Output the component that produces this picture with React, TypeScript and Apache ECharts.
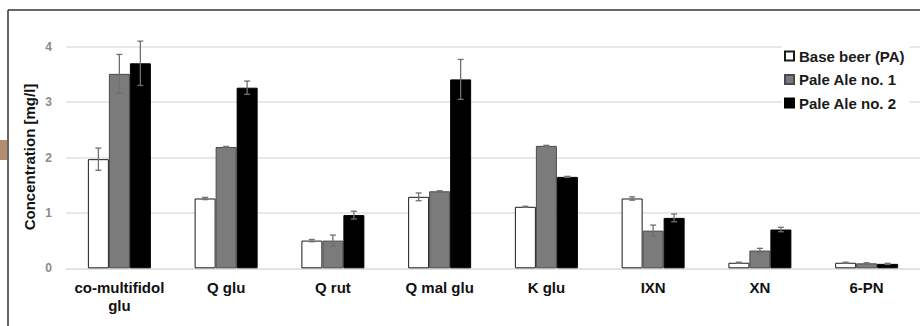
import React, { useEffect, useRef } from "react";
import * as echarts from "echarts";

const categories = ["co-multifidol\nglu", "Q glu", "Q rut", "Q mal glu", "K glu", "IXN", "XN", "6-PN"];
const seriesNames = ["Base beer (PA)", "Pale Ale no. 1", "Pale Ale no. 2"];
const baseBeer = [1.97, 1.26, 0.5, 1.29, 1.11, 1.26, 0.1, 0.1];
const baseBeerErr = [0.2, 0.02, 0.02, 0.07, 0.01, 0.03, 0.01, 0.01];
const paleAle1 = [3.51, 2.19, 0.5, 1.39, 2.21, 0.68, 0.32, 0.09];
const paleAle1Err = [0.35, 0.01, 0.1, 0.01, 0.01, 0.1, 0.04, 0.01];
const paleAle2 = [3.7, 3.26, 0.96, 3.41, 1.65, 0.91, 0.7, 0.08];
const paleAle2Err = [0.4, 0.12, 0.07, 0.36, 0.01, 0.07, 0.04, 0.01];
const yTicks = [0, 1, 2, 3, 4];

const BAR_W = 21;
const FONT = "'Liberation Sans', Arial, Helvetica, sans-serif";

export default function App() {
  const ref = useRef<HTMLDivElement>(null);
  useEffect(() => {
    if (!ref.current) return;
    const chart = echarts.init(ref.current, null, { renderer: "svg" });
    const values = [baseBeer, paleAle1, paleAle2];
    const errs = [baseBeerErr, paleAle1Err, paleAle2Err];
    const styles = [
      { color: "#ffffff", borderColor: "#1a1a1a", borderWidth: 1 },
      { color: "#7b7b7b", borderColor: "#4a4a4a", borderWidth: 1 },
      { color: "#000000", borderColor: "#000000", borderWidth: 1 },
    ];
    const barSeries = values.map((v, i) => ({
      name: seriesNames[i],
      type: "bar",
      data: v,
      barWidth: BAR_W,
      barGap: "0%",
      itemStyle: styles[i],
      z: 2,
    }));
    const errSeries = values.map((v, i) => ({
      type: "custom",
      name: seriesNames[i] + " err",
      clip: false,
      z: 5,
      silent: true,
      data: v.map((val, k) => [k, val, errs[i][k]]),
      encode: { x: 0, y: 1 },
      renderItem: (params: any, api: any) => {
        const idx = api.value(0);
        const val = api.value(1);
        const e = api.value(2);
        const off = (i - 1) * BAR_W;
        const top = api.coord([idx, val + e]);
        const bot = api.coord([idx, val - e]);
        const x = top[0] + off;
        const cap = 3;
        const st = { stroke: "#707070", lineWidth: 1.3 };
        return {
          type: "group",
          children: [
            { type: "line", shape: { x1: x, y1: top[1], x2: x, y2: bot[1] }, style: st },
            { type: "line", shape: { x1: x - cap, y1: top[1], x2: x + cap, y2: top[1] }, style: st },
            { type: "line", shape: { x1: x - cap, y1: bot[1], x2: x + cap, y2: bot[1] }, style: st },
          ],
        };
      },
    }));
    chart.setOption({
      animation: false,
      grid: { left: 66, right: -6, top: 46.7, bottom: 57.7 },
      xAxis: {
        type: "category",
        data: categories,
        axisLine: { show: true, lineStyle: { color: "#e0e0e0", width: 1.5 } },
        axisTick: { show: false },
        axisLabel: {
          color: "#111",
          fontFamily: FONT,
          fontWeight: "bold",
          fontSize: 15,
          lineHeight: 18,
          margin: 10,
          interval: 0,
        },
      },
      yAxis: {
        type: "value",
        min: yTicks[0],
        max: yTicks[yTicks.length - 1],
        interval: 1,
        axisLine: { show: false },
        axisTick: { show: false },
        splitLine: { lineStyle: { color: "#e0e0e0", width: 1.5 } },
        axisLabel: {
          color: "#8a8a8a",
          fontFamily: FONT,
          fontWeight: "bold",
          fontSize: 12,
          margin: 14,
        },
      },
      legend: {
        data: seriesNames,
        orient: "vertical",
        left: 782,
        top: 40,
        padding: [8, 5, 8, 2],
        backgroundColor: "#ffffff",
        itemWidth: 9,
        itemHeight: 9,
        itemGap: 7.5,
        icon: "rect",
        textStyle: {
          color: "#1a1a1a",
          fontFamily: FONT,
          fontWeight: "bold",
          fontSize: 15,
          lineHeight: 16,
        },
      },
      graphic: [
        { type: "line", shape: { x1: 8, y1: 10, x2: 920, y2: 10 }, style: { stroke: "#333", lineWidth: 1.5 } },
        { type: "line", shape: { x1: 8, y1: 10, x2: 8, y2: 326 }, style: { stroke: "#333", lineWidth: 1.5 } },
        { type: "rect", shape: { x: 0, y: 140, width: 7, height: 20 }, style: { fill: "#b38b6d" } },
        {
          type: "text",
          x: 29,
          y: 157,
          rotation: Math.PI / 2,
          style: {
            text: "Concentration [mg/l]",
            fill: "#111",
            font: "bold 15px " + FONT,
            align: "center",
            verticalAlign: "middle",
          },
        },
      ],
      series: [...barSeries, ...errSeries],
    });
    return () => chart.dispose();
  }, []);
  return (
    <div
      ref={ref}
      style={{ position: "absolute", left: 0, top: 0, width: 920, height: 326, background: "#fff" }}
    />
  );
}
